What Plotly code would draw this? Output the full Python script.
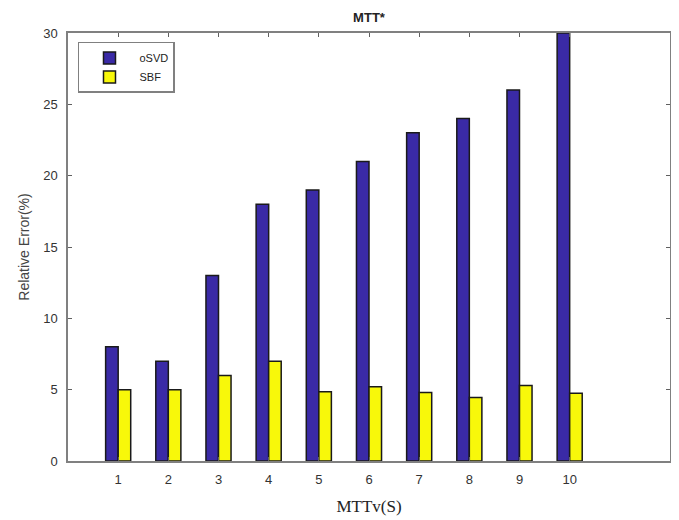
import plotly.graph_objects as go

categories = [1, 2, 3, 4, 5, 6, 7, 8, 9, 10]
osvd = [8, 7, 13, 18, 19, 21, 23, 24, 26, 30]
sbf = [5.0, 5.0, 6.0, 7.0, 4.85, 5.2, 4.8, 4.45, 5.3, 4.75]
series_names = ["oSVD", "SBF"]
y_ticks = [0, 5, 10, 15, 20, 25, 30]

fig = go.Figure()
fig.add_trace(go.Bar(x=categories, y=osvd, name=series_names[0],
                     marker=dict(color="#3a2aa6", line=dict(color="#1a1a1a", width=1.5))))
fig.add_trace(go.Bar(x=categories, y=sbf, name=series_names[1],
                     marker=dict(color="#f8f80a", line=dict(color="#1a1a1a", width=1.5))))

axis_common = dict(showline=True, linecolor="#808080", linewidth=1.5, mirror="ticks",
                   ticks="inside", ticklen=4, tickcolor="#606060", showgrid=False,
                   zeroline=False, tickfont=dict(family="Liberation Sans, Arial", size=13, color="#333333"))

fig.update_layout(
    width=671, height=512,
    margin=dict(l=60, r=7, t=25, b=59),
    paper_bgcolor="white", plot_bgcolor="white",
    barmode="group", bargap=0.5, bargroupgap=0,
    title=dict(text="<b>MTT*</b>", x=0.5, xref="paper", y=1 - 9 / 512, yref="container",
               yanchor="middle", xanchor="center",
               font=dict(family="Liberation Sans, Arial", size=13, color="#222222")),
    xaxis=dict(range=[0, 12], tickvals=categories, ticklabelstandoff=6,
               title=dict(text="MTTv(S)", standoff=14,
                          font=dict(family="Liberation Serif, Times New Roman", size=17, color="#222222")),
               **axis_common),
    yaxis=dict(range=[0, 30], tickvals=y_ticks, ticklabelstandoff=6,
               title=dict(text="Relative Error(%)", standoff=10,
                          font=dict(family="Liberation Sans, Arial", size=14, color="#444444")),
               **axis_common),
    legend=dict(x=0.0166, y=0.979, xanchor="left", yanchor="top",
                bgcolor="white", bordercolor="#808080", borderwidth=1.5,
                font=dict(family="Liberation Sans, Arial", size=11, color="#222222"),
                tracegroupgap=0, itemwidth=50),
    showlegend=True,
)

fig.write_html("out.html")
